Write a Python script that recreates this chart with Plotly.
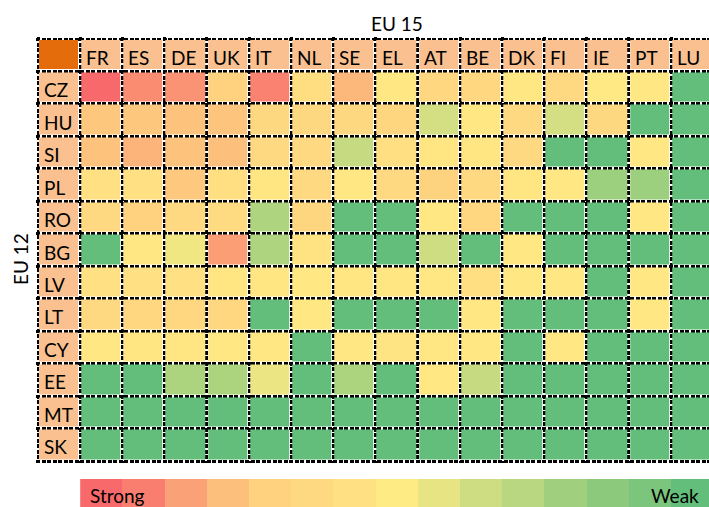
import plotly.graph_objects as go

# ---- data ----
cols = ["FR", "ES", "DE", "UK", "IT", "NL", "SE", "EL", "AT", "BE", "DK", "FI", "IE", "PT", "LU"]
rows = ["CZ", "HU", "SI", "PL", "RO", "BG", "LV", "LT", "CY", "EE", "MT", "SK"]

# strength score: 1 = strong ... 15 = weak
CZ = [1.0, 2.4, 2.6, 5.0, 2.1, 6.7, 3.7, 7.6, 5.7, 5.7, 7.6, 6.0, 7.8, 7.6, 15]
HU = [4.4, 4.4, 4.1, 4.2, 5.9, 5.9, 5.9, 5.5, 9.8, 7.6, 6.0, 9.8, 5.9, 15, 15]
SI = [4.1, 3.6, 4.1, 4.0, 6.0, 6.0, 10.4, 6.9, 7.5, 7.5, 6.0, 15, 15, 7.7, 15]
PL = [7.0, 7.0, 4.5, 6.8, 7.5, 6.0, 7.6, 6.0, 5.2, 6.0, 7.5, 7.6, 12.2, 12.2, 15]
RO = [6.0, 5.0, 6.0, 6.3, 11.4, 5.5, 15, 15, 7.7, 5.7, 15, 15, 15, 7.7, 15]
BG = [15, 7.7, 8.6, 2.9, 11.4, 7.2, 15, 15, 10.0, 15, 7.7, 15, 15, 15, 15]
LV = [7.0, 7.0, 7.0, 7.5, 7.5, 7.7, 7.5, 7.5, 7.7, 6.9, 7.7, 7.7, 15, 7.7, 15]
LT = [6.0, 5.7, 5.7, 5.7, 15, 7.7, 15, 15, 15, 7.7, 15, 15, 15, 7.7, 15]
CY = [7.7, 7.5, 7.5, 7.7, 7.7, 15, 7.7, 7.4, 7.7, 7.7, 15, 7.7, 15, 15, 15]
EE = [15, 15, 11.5, 11.5, 8.8, 15, 11.5, 15, 7.7, 10.4, 15, 15, 15, 15, 15]
MT = [15] * 15
SK = [15] * 15
scores = [CZ, HU, SI, PL, RO, BG, LV, LT, CY, EE, MT, SK]

legend_levels = list(range(1, 16))
legend_colors = ["#F8696B", "#F97E6F", "#FBA177", "#FDC07C", "#FED27F", "#FED981",
                 "#FFE082", "#FFEB84", "#E6E483", "#CFDD82", "#B8D780", "#A0D07E",
                 "#8DC97D", "#7CC57C", "#63BE7B"]
legend_texts = ["Strong", "Weak"]

header_color = "#FAC08F"
corner_color = "#E46C0A"
FONT = "Lato, 'Open Sans', sans-serif"

colorscale = [[i / (len(legend_colors) - 1), c] for i, c in enumerate(legend_colors)]
xs = list(range(1, len(cols) + 1))
ys = list(range(1, len(rows) + 1))

fig = go.Figure()
GAP = 3
# main cells
fig.add_trace(go.Heatmap(z=scores, x=xs, y=ys, colorscale=colorscale, zmin=1, zmax=15,
                         showscale=False, xgap=GAP, ygap=GAP, hoverinfo="skip"))
# header row
fig.add_trace(go.Heatmap(z=[[1] * len(cols)], x=xs, y=[0],
                         colorscale=[[0, header_color], [1, header_color]],
                         showscale=False, xgap=GAP, ygap=GAP, hoverinfo="skip"))
# header column
fig.add_trace(go.Heatmap(z=[[1] for _ in rows], x=[0], y=ys,
                         colorscale=[[0, header_color], [1, header_color]],
                         showscale=False, xgap=GAP, ygap=GAP, hoverinfo="skip"))
# corner
fig.add_trace(go.Heatmap(z=[[1]], x=[0], y=[0],
                         colorscale=[[0, corner_color], [1, corner_color]],
                         showscale=False, xgap=GAP, ygap=GAP, hoverinfo="skip"))
# legend bar
fig.add_trace(go.Heatmap(z=[legend_levels], x=xs, y=[0], colorscale=colorscale,
                         zmin=1, zmax=15, showscale=False, xaxis="x2", yaxis="y2",
                         hoverinfo="skip"))

W, H = 709, 507
L, T = 36, 37
plot_w, plot_h = W - L, H - T
pxu_x = 42.2
x0 = -0.5 - 2 / pxu_x
xr = [x0, x0 + plot_w / pxu_x]
ypad = 2 / 32.46

def py(p):
    return (H - p) / plot_h

def px(p):
    return (p - L) / plot_w

annotations = []
lab_font = dict(family=FONT, size=19, color="black")
for j, c in enumerate(cols, start=1):
    annotations.append(dict(x=j - 0.5, y=0, xref="x", yref="y", text=c, showarrow=False,
                            xanchor="left", yanchor="middle", xshift=4, yshift=-2, font=lab_font))
for i, r in enumerate(rows, start=1):
    annotations.append(dict(x=-0.5, y=i, xref="x", yref="y", text=r, showarrow=False,
                            xanchor="left", yanchor="middle", xshift=4, yshift=-2, font=lab_font))
annotations.append(dict(x=px(397), y=py(23), xref="paper", yref="paper", text="EU 15",
                        showarrow=False, xanchor="center", yanchor="middle", font=lab_font))
annotations.append(dict(x=px(20), y=py(259), xref="paper", yref="paper", text="EU 12",
                        showarrow=False, textangle=-90, xanchor="center", yanchor="middle",
                        font=lab_font))
annotations.append(dict(x=px(88), y=py(495), xref="paper", yref="paper", text=legend_texts[0],
                        showarrow=False, xanchor="left", yanchor="middle", font=lab_font))
annotations.append(dict(x=px(701), y=py(495), xref="paper", yref="paper", text=legend_texts[1],
                        showarrow=False, xanchor="right", yanchor="middle", font=lab_font))

grid = dict(showgrid=True, gridcolor="black", gridwidth=3, griddash="4px,1.5px",
            showticklabels=False, ticks="", zeroline=False, showline=False)

fig.update_layout(
    width=W, height=H,
    margin=dict(l=L, r=0, t=T, b=0, autoexpand=False),
    paper_bgcolor="white", plot_bgcolor="white",
    xaxis=dict(range=xr, domain=[0, 1], tickmode="array",
               tickvals=[k - 0.5 for k in range(len(cols) + 2)], **grid),
    yaxis=dict(range=[len(rows) + 0.5 + ypad, -0.5 - ypad], domain=[py(463), 1],
               tickmode="array", tickvals=[k - 0.5 for k in range(len(rows) + 2)], **grid),
    xaxis2=dict(range=xr, domain=[0, 1], anchor="y2", visible=False, showgrid=False),
    yaxis2=dict(range=[-0.5, 0.5], domain=[0, py(479)], anchor="x2", visible=False,
                showgrid=False),
    annotations=annotations,
    showlegend=False,
)

fig.write_html("out.html", config={"displayModeBar": False},
               post_script="document.body.style.margin='0px';document.body.style.overflow='hidden';")
